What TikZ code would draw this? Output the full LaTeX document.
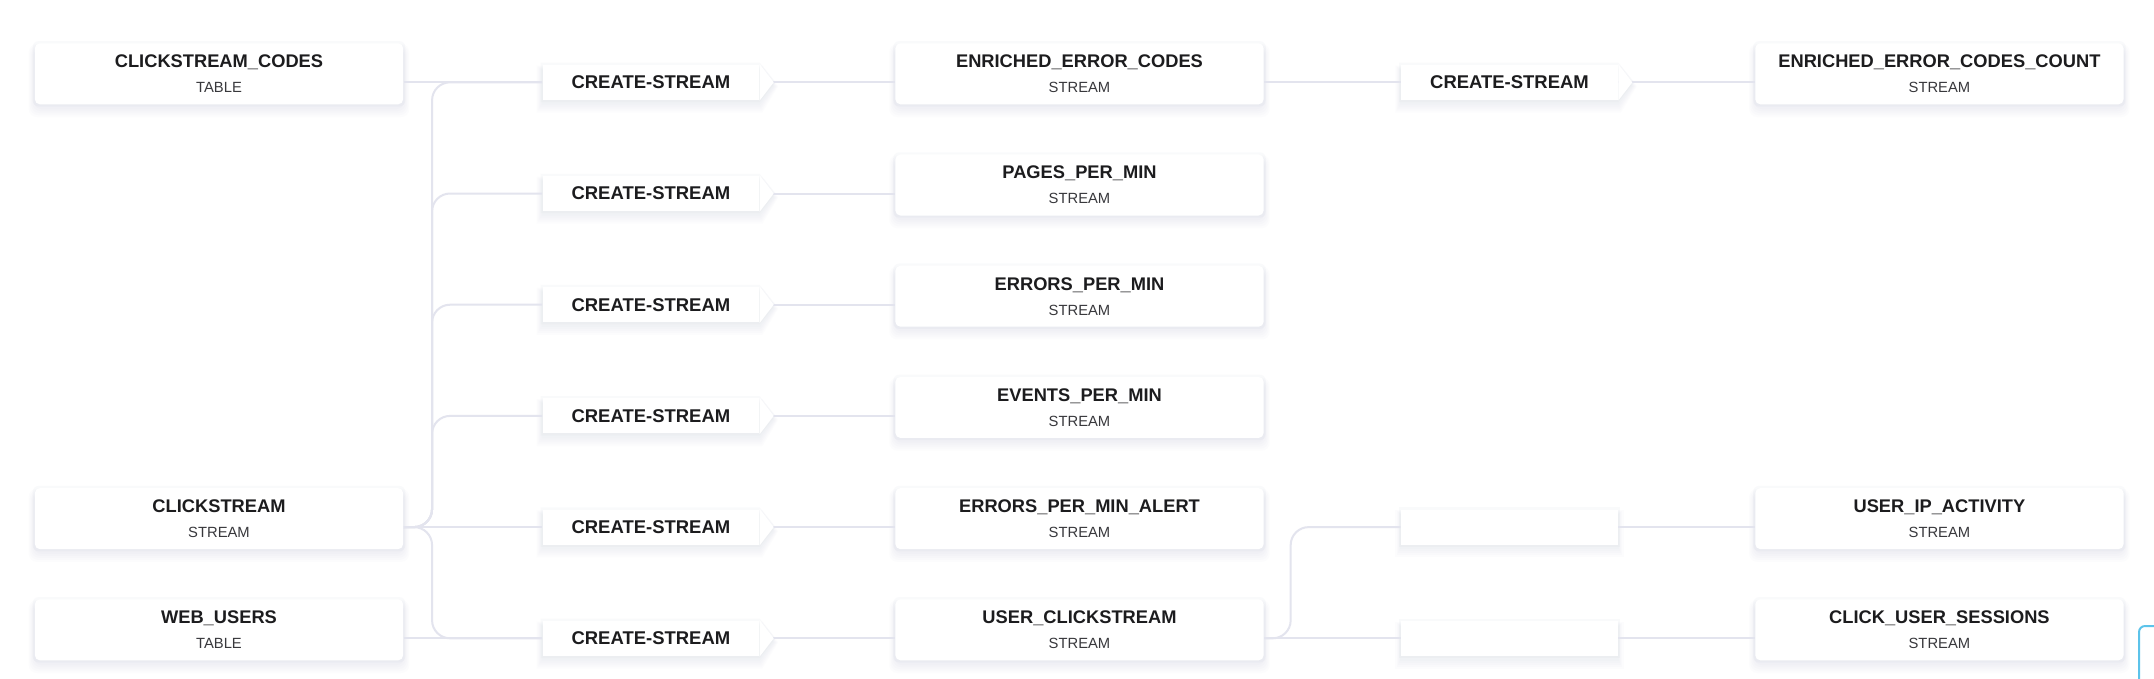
\documentclass[tikz,border=0pt]{standalone}
\usepackage{fontspec}
\setmainfont{Liberation Sans}
\usetikzlibrary{backgrounds}

\definecolor{linkc}{HTML}{E3E4EE}
\definecolor{shadowc}{HTML}{9CA1C2}
\definecolor{inkc}{HTML}{1C1C1E}
\definecolor{subc}{HTML}{38383C}
\definecolor{focusc}{HTML}{5CC3EA}

\tikzset{
  card/.style={fill=white, rounded corners=0.05cm, minimum width=3.68cm, minimum height=0.61cm,
    inner sep=0pt, align=center, text=inkc, font=\fontsize{5.2pt}{7.1pt}\selectfont\bfseries},
  tagbox/.style={fill=white, minimum width=2.16cm, minimum height=0.35cm, inner sep=0pt,
    text=inkc, font=\fontsize{5.25pt}{6pt}\selectfont\bfseries},
  link/.style={draw=linkc, line width=0.02cm},
  bentlink/.style={link, rounded corners=0.18cm},
}
\newcommand{\kind}[1]{{\mdseries\color{subc}\fontsize{4.2pt}{7.1pt}\selectfont #1}}

\begin{document}
\begin{tikzpicture}[x=0.01cm, y=-0.01cm]
        \useasboundingbox (0,0) rectangle (2154,678);
        \begin{pgfonlayer}{background}
            \fill[white] (0,0) rectangle (2154,678);
        \end{pgfonlayer}
        \clip (0,0) rectangle (2154,678);

        % Sources
        \node[card] (ccodes) at (219, 73.8) {CLICKSTREAM\_CODES\\\kind{TABLE}};
        \node[card] (clickstream) at (219, 518.6) {CLICKSTREAM\\\kind{STREAM}};
        \node[card] (webusers) at (219, 629.8) {WEB\_USERS\\\kind{TABLE}};

        % First queries
        \node[tagbox] (csA1) at (650.9, 82.3) {CREATE-STREAM};
        \node[tagbox] (csA2) at (650.9, 193.5) {CREATE-STREAM};
        \node[tagbox] (csA3) at (650.9, 304.7) {CREATE-STREAM};
        \node[tagbox] (csA4) at (650.9, 415.9) {CREATE-STREAM};
        \node[tagbox] (csA5) at (650.9, 527.1) {CREATE-STREAM};
        \node[tagbox] (csA6) at (650.9, 638.3) {CREATE-STREAM};

        % Derived streams
        \node[card] (enriched) at (1079.5, 73.8) {ENRICHED\_ERROR\_CODES\\\kind{STREAM}};
        \node[card] (pagesmin) at (1079.5, 185.0) {PAGES\_PER\_MIN\\\kind{STREAM}};
        \node[card] (errorsmin) at (1079.5, 296.2) {ERRORS\_PER\_MIN\\\kind{STREAM}};
        \node[card] (eventsmin) at (1079.5, 407.4) {EVENTS\_PER\_MIN\\\kind{STREAM}};
        \node[card] (erralert) at (1079.5, 518.6) {ERRORS\_PER\_MIN\_ALERT\\\kind{STREAM}};
        \node[card] (userclick) at (1079.5, 629.8) {USER\_CLICKSTREAM\\\kind{STREAM}};

        % Second queries
        \node[tagbox] (csB1) at (1509.5, 82.3) {CREATE-STREAM};
        \node[tagbox] (blankB5) at (1509.5, 527.1) {};
        \node[tagbox] (blankB6) at (1509.5, 638.3) {};

        % Sinks
        \node[card] (enrichedcnt) at (1939.4, 73.8) {ENRICHED\_ERROR\_CODES\_COUNT\\\kind{STREAM}};
        \node[card] (useripact) at (1939.4, 518.6) {USER\_IP\_ACTIVITY\\\kind{STREAM}};
        \node[card] (clicksess) at (1939.4, 629.8) {CLICK\_USER\_SESSIONS\\\kind{STREAM}};

        % Shadows and links
        \begin{pgfonlayer}{background}
            \foreach \n in {ccodes, clickstream, webusers, enriched, pagesmin, errorsmin, eventsmin, erralert, userclick, enrichedcnt, useripact, clicksess} {
                \fill[shadowc, opacity=0.05, rounded corners=0.06cm]
                    ([shift={(-1.5,1.5)}]\n.south west) rectangle ([shift={(1.5,-1.5)}]\n.north east);
                \foreach \s in {1,3,5,7,9}
                    \fill[shadowc, opacity=0.026, rounded corners=0.08cm]
                        ([shift={(-0.6*\s,3+\s)}]\n.south west) rectangle ([shift={(0.6*\s,6-0.5*\s)}]\n.north east);
            }
            \foreach \n in {csA1, csA2, csA3, csA4, csA5, csA6, csB1} {
                \fill[shadowc, opacity=0.05] ([shift={(-1.5,1.5)}]\n.south west) -- ([shift={(0,1.5)}]\n.south east)
                    -- ([shift={(16,0)}]\n.east) -- ([shift={(0,-1.5)}]\n.north east) -- ([shift={(-1.5,-1.5)}]\n.north west) -- cycle;
                \foreach \s in {1,3,5,7,9}
                    \fill[shadowc, opacity=0.022] ([shift={(-0.6*\s,3+\s)}]\n.south west) -- ([shift={(0.3*\s,3+\s)}]\n.south east)
                        -- ([shift={(14+0.5*\s,4)}]\n.east) -- ([shift={(0.3*\s,6-0.5*\s)}]\n.north east)
                        -- ([shift={(-0.6*\s,6-0.5*\s)}]\n.north west) -- cycle;
            }
            \foreach \n in {blankB5, blankB6} {
                \fill[shadowc, opacity=0.05]
                    ([shift={(-1.5,1.5)}]\n.south west) rectangle ([shift={(1.5,-1.5)}]\n.north east);
                \foreach \s in {1,3,5,7,9}
                    \fill[shadowc, opacity=0.022]
                        ([shift={(-0.6*\s,3+\s)}]\n.south west) rectangle ([shift={(0.6*\s,6-0.5*\s)}]\n.north east);
            }

            \draw[link] (ccodes.east |- csA1.west) -- (csA1.west);
            \draw[link] (webusers.east |- csA6.west) -- (csA6.west);
            \draw[link] (clickstream.east |- csA5.west) -- (csA5.west);
            \foreach \t in {csA1, csA2, csA3, csA4, csA6}
                \draw[bentlink] (clickstream.east |- csA5.west) -| ([xshift=-1.1cm]\t.west) -- (\t.west);

            \draw[link] (csA1.east) -- (enriched.west |- csA1.east);
            \draw[link] (csA2.east) -- (pagesmin.west |- csA2.east);
            \draw[link] (csA3.east) -- (errorsmin.west |- csA3.east);
            \draw[link] (csA4.east) -- (eventsmin.west |- csA4.east);
            \draw[link] (csA5.east) -- (erralert.west |- csA5.east);
            \draw[link] (csA6.east) -- (userclick.west |- csA6.east);

            \draw[link] (enriched.east |- csB1.west) -- (csB1.west);
            \draw[link] (csB1.east) -- (enrichedcnt.west |- csB1.east);
            \draw[link] (userclick.east |- blankB6.west) -- (blankB6.west);
            \draw[bentlink] (userclick.east |- blankB6.west) -| ([xshift=-1.1cm]blankB5.west) -- (blankB5.west);
            \draw[link] (blankB5.east) -- (useripact.west |- blankB5.east);
            \draw[link] (blankB6.east) -- (clicksess.west |- blankB6.east);
        \end{pgfonlayer}

        % Arrow tips of the query tags
        \foreach \n in {csA1, csA2, csA3, csA4, csA5, csA6, csB1}
            \fill[white] (\n.north east) -- ([xshift=0.14cm]\n.east) -- (\n.south east) -- cycle;

        % Focus ring, cut by the edge
        \draw[focusc, line width=0.02cm, rounded corners=0.06cm] (2139,626) rectangle (2230,720);
    \end{tikzpicture}
\end{document}
